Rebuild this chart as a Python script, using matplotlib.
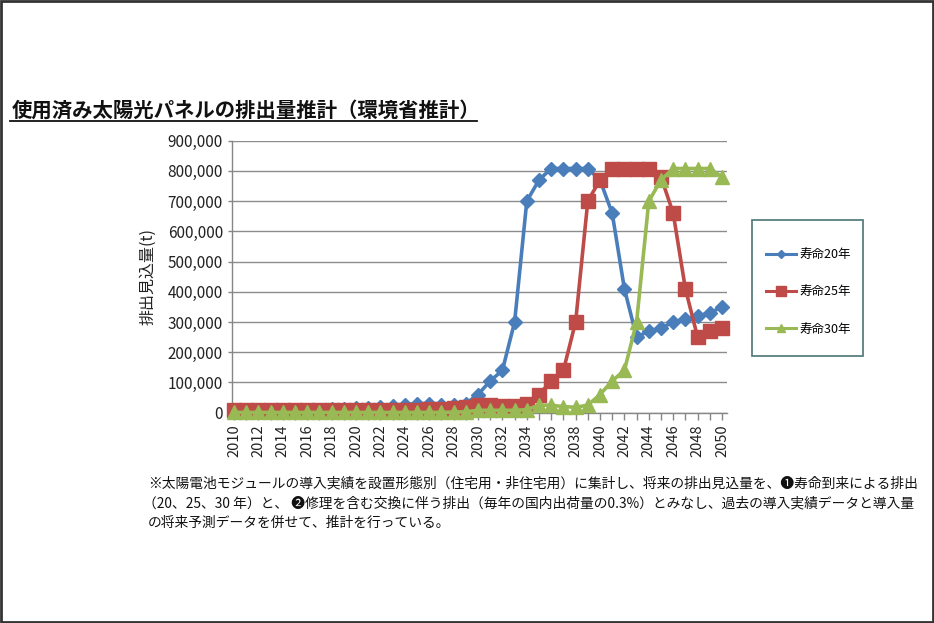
import matplotlib
matplotlib.use("Agg")
import matplotlib.pyplot as plt
from matplotlib.patches import Rectangle
from matplotlib.lines import Line2D

plt.rcParams['font.family'] = ['Noto Sans CJK JP', 'DejaVu Sans']

years = list(range(2010, 2051))
life20 = [3000, 4000, 5000, 6000, 7000, 8000, 9000, 10000, 11000, 12000,
          14000, 17000, 20000, 23000, 27000, 30000, 30000, 27000, 25000, 30000,
          60000, 105000, 140000, 300000, 700000, 770000, 808000, 808000, 808000, 808000,
          770000, 660000, 410000, 250000, 270000, 280000, 300000, 310000, 320000, 330000,
          350000]
life25 = [10000, 10000, 10000, 10000, 10000, 10000, 10000, 10000, 10000, 10000,
          10000, 10000, 10000, 10000, 10000, 10000, 12000, 12000, 15000, 20000,
          25000, 25000, 22000, 22000, 30000, 60000, 105000, 140000, 300000, 700000,
          770000, 808000, 808000, 808000, 808000, 780000, 660000, 410000, 250000, 270000,
          280000]
life30 = [1000, 1000, 1000, 1000, 1000, 1000, 1000, 1000, 1000, 1000,
          1000, 1000, 1000, 1000, 1000, 1000, 1000, 1000, 2000, 3000,
          8000, 8000, 8000, 8000, 10000, 25000, 25000, 20000, 18000, 25000,
          60000, 105000, 140000, 300000, 700000, 770000, 808000, 808000, 808000, 808000,
          780000]
series_labels = ['寿命20年', '寿命25年', '寿命30年']
yticks = [0, 100000, 200000, 300000, 400000, 500000, 600000, 700000, 800000, 900000]
xtick_years = list(range(2010, 2051, 2))

title = '使用済み太陽光パネルの排出量推計（環境省推計）'
ylabel = '排出見込量(t)'
note_lines = [
    '※太陽電池モジュールの導入実績を設置形態別（住宅用・非住宅用）に集計し、将来の排出見込量を、❶寿命到来による排出',
    '（20、25、30 年）と、 ❷修理を含む交換に伴う排出（毎年の国内出荷量の0.3%）とみなし、過去の導入実績データと導入量',
    'の将来予測データを併せて、推計を行っている。',
]

W, H = 934, 623
fig = plt.figure(figsize=(W / 100, H / 100), dpi=100)
fig.patch.set_facecolor('white')

ax = fig.add_axes([232 / W, 1 - 412.7 / H, (727 - 232) / W, (412.7 - 140.7) / H])

colors = ['#4a7ebb', '#be4b48', '#98b954']
markers = ['D', 's', '^']
msizes = [7, 10.5, 9.5]
for vals, c, m, ms, lab in zip([life20, life25, life30], colors, markers, msizes, series_labels):
    ax.plot(years, vals, color=c, marker=m, markersize=ms, lw=2.6, label=lab,
            markeredgecolor=c, zorder=3, clip_on=False)

ax.set_ylim(0, 900000)
ax.set_xlim(2010 - 2 / 12.2, 2050 + 5 / 12.2)
ax.set_yticks(yticks)
ax.set_yticklabels([f'{v:,}' for v in yticks], fontsize=11, color='#222222')
ax.set_xticks(xtick_years)
ax.set_xticklabels([str(y) for y in xtick_years], rotation=90, fontsize=10.5, color='#222222')
ax.set_xticks(years, minor=True)
ax.tick_params(axis='x', which='both', length=5, color='#868686', width=1)
ax.tick_params(axis='y', length=3, color='#868686', width=1)
ax.grid(axis='y', color='#8c8c8c', lw=1, zorder=0)
ax.set_axisbelow(True)
for s in ['top', 'right']:
    ax.spines[s].set_visible(False)
for s in ['left', 'bottom']:
    ax.spines[s].set_color('#868686')
    ax.spines[s].set_linewidth(1)

ax.set_ylabel(ylabel, fontsize=11.5, color='#222222', labelpad=8)

# legend (frameless, with separately drawn box)
handles = [Line2D([0], [0], color=c, marker=m, markersize=ms * 0.65, lw=2.2, markeredgecolor=c)
           for c, m, ms in zip(colors, markers, msizes)]
leg = fig.legend(handles, series_labels, loc='upper left',
                 bbox_to_anchor=(766 / W, 1 - 248 / H), fontsize=9,
                 frameon=False, labelspacing=1.95, borderpad=0,
                 handlelength=2.4, handletextpad=0.25, borderaxespad=0)
fig.add_artist(Rectangle((752 / W, 1 - 356 / H), (863 - 752) / W, (356 - 220) / H,
                         transform=fig.transFigure, fill=False, edgecolor='#5a7f80', lw=1.3))

# title with underline
fig.text(12 / W, 1 - 110 / H, title, fontsize=14.7, fontweight='bold', color='#111111',
         va='center', ha='left')
fig.add_artist(Line2D([10 / W, 477 / W], [1 - 121 / H, 1 - 121 / H], color='#111111', lw=1.3))

# notes
ys = [483, 503, 523]
xs = [148, 143, 148]
for t, x, y in zip(note_lines, xs, ys):
    fig.text(x / W, 1 - y / H, t, fontsize=9.9, color='#111111', va='center', ha='left')

# frame border
fig.add_artist(Rectangle((0.001, 0.002), 0.998, 0.996, transform=fig.transFigure,
                         fill=False, edgecolor='#333333', lw=2))

fig.savefig('out.png', dpi=100)
